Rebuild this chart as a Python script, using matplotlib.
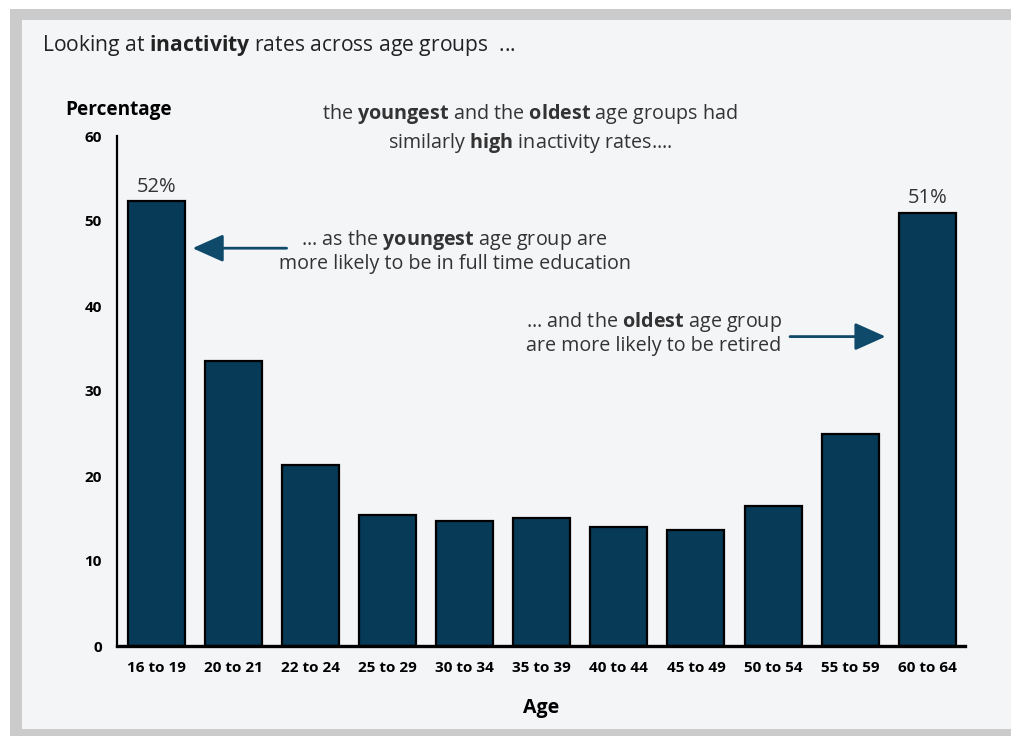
import matplotlib.pyplot as plt
from matplotlib.patches import Rectangle

plt.rcParams["font.family"] = ["Open Sans", "DejaVu Sans"]
plt.rcParams["mathtext.fontset"] = "custom"
plt.rcParams["mathtext.rm"] = "Open Sans"
plt.rcParams["mathtext.bf"] = "Open Sans:bold"

age_groups = ["16 to 19", "20 to 21", "22 to 24", "25 to 29", "30 to 34", "35 to 39",
              "40 to 44", "45 to 49", "50 to 54", "55 to 59", "60 to 64"]
inactivity = [52.3, 33.5, 21.3, 15.4, 14.7, 15.1, 14.0, 13.6, 16.5, 24.9, 51.0]
y_ticks = [0, 10, 20, 30, 40, 50, 60]

W, H = 1011, 736
bar_color = "#063a57"
arrow_color = "#0f4a6a"
text_color = "#333333"

fig = plt.figure(figsize=(W / 100, H / 100), dpi=100, facecolor="white")

# outer grey frame and light panel
fig.patches.append(Rectangle((10 / W, 0), 1 - 10 / W, 1 - 9 / H, transform=fig.transFigure,
                             facecolor="#cbcbcb", edgecolor="none", zorder=-3))
fig.patches.append(Rectangle((22 / W, 7 / H), 1 - 22 / W, 1 - 27 / H, transform=fig.transFigure,
                             facecolor="#f4f5f7", edgecolor="none", zorder=-2))

ax = fig.add_axes([117 / W, 90 / H, (965 - 117) / W, (646 - 136) / H])
ax.set_facecolor("none")

x = list(range(len(age_groups)))
ax.bar(x, inactivity, width=0.74, color=bar_color, edgecolor="black", linewidth=1.6, zorder=2)

ax.set_xlim(-0.51, 10.49)
ax.set_ylim(0, 60)
ax.set_yticks(y_ticks)
ax.set_yticklabels([str(t) for t in y_ticks], fontweight="bold", fontsize=11)
ax.set_xticks(x)
ax.set_xticklabels(age_groups, fontweight="bold", fontsize=11)
ax.tick_params(axis="both", length=0, colors="black")
ax.tick_params(axis="y", pad=11)
ax.tick_params(axis="x", pad=11)

for s in ["top", "right"]:
    ax.spines[s].set_visible(False)
ax.spines["left"].set_linewidth(1.6)
ax.spines["bottom"].set_linewidth(2.4)
ax.spines["bottom"].set_zorder(3)

ax.set_xlabel("Age", fontweight="bold", fontsize=14, labelpad=16)

# value labels on the end bars
ax.text(x[0], inactivity[0] + 0.5, "52%", ha="center", va="bottom", fontsize=14.5, color=text_color)
ax.text(x[-1], inactivity[-1] + 0.5, "51%", ha="center", va="bottom", fontsize=14.5, color=text_color)

fig.text(65 / W, 1 - 110 / H, "Percentage", fontweight="bold", fontsize=13.7, va="center")
fig.text(42 / W, 1 - 45 / H, r"Looking at $\mathbf{inactivity}$ rates across age groups  ...",
         fontsize=15.2, va="center", color="#222222")

ax.text(4.85, 60.85, "the $\\mathbf{youngest}$ and the $\\mathbf{oldest}$ age groups had\n"
        "similarly $\\mathbf{high}$ inactivity rates....",
        ha="center", va="center", fontsize=14.2, color=text_color, linespacing=1.3)

ax.text(3.87, 46.5, "... as the $\\mathbf{youngest}$ age group are\n"
        "more likely to be in full time education",
        ha="center", va="center", fontsize=14.2, color=text_color, linespacing=1.15)

ax.text(6.45, 36.8, "... and the $\\mathbf{oldest}$ age group\nare more likely to be retired",
        ha="center", va="center", fontsize=14.2, color=text_color, linespacing=1.15)

ax.annotate("", xy=(0.47, 46.8), xytext=(1.69, 46.8),
            arrowprops=dict(arrowstyle="-|>,head_length=1.9,head_width=0.85",
                            color=arrow_color, lw=2, shrinkA=0, shrinkB=0))
ax.annotate("", xy=(9.46, 36.4), xytext=(8.22, 36.4),
            arrowprops=dict(arrowstyle="-|>,head_length=1.9,head_width=0.85",
                            color=arrow_color, lw=2, shrinkA=0, shrinkB=0))

fig.savefig("out.png", dpi=100)
